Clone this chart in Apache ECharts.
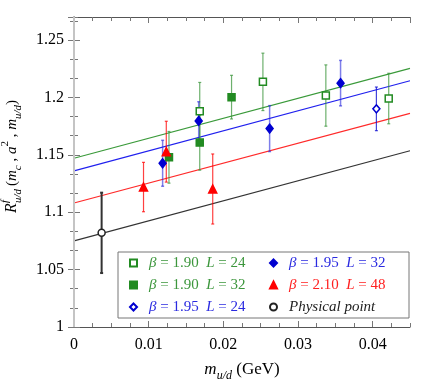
<!DOCTYPE html>
<html>
<head>
<meta charset="utf-8">
<script src="https://cdn.jsdelivr.net/npm/echarts@6/dist/echarts.min.js"></script>
<style>
  html, body { margin: 0; padding: 0; background: #fff; }
  #chart { width: 436px; height: 384px; }
</style>
</head>
<body>
<div id="chart"></div>
<script>
// data
const b190L24X = [0.01684, 0.0253, 0.03373, 0.04215];
const b190L24Y = [1.188, 1.2135, 1.2016, 1.199];
const b190L24Err = [0.025, 0.025, 0.0267, 0.022];

const b190L32X = [0.01272, 0.01684, 0.0211];
const b190L32Y = [1.1478, 1.1606, 1.2002];
const b190L32Err = [0.0225, 0.024, 0.019];

const b195L24X = [0.0405];
const b195L24Y = [1.19];
const b195L24Err = [0.019];

const b195L32X = [0.01187, 0.0167, 0.0262, 0.0357];
const b195L32Y = [1.1426, 1.1795, 1.1728, 1.2124];
const b195L32Err = [0.02, 0.0167, 0.02, 0.0198];

const b210L48X = [0.00931, 0.01236, 0.01858];
const b210L48Y = [1.1219, 1.1527, 1.1202];
const b210L48Err = [0.0215, 0.0265, 0.0305];

const physX = [0.0037];
const physY = [1.082];
const physErr = [0.035];

// fit lines, evaluated at the ends of the x range
const fitX = [0, 0.045];
const fitGreen = [1.147, 1.2253];
const fitBlue = [1.136, 1.2145];
const fitRed = [1.108, 1.186];
const fitBlack = [1.075, 1.1535];

const xTicks = [0, 0.01, 0.02, 0.03, 0.04];
const yTicks = [1, 1.05, 1.1, 1.15, 1.2, 1.25];

const SERIF = '"Liberation Serif", "DejaVu Serif", serif';
const GREEN = '#228b22', BLUE = '#0000d0', RED = '#ff0000', BLACK = '#222';

function pts(xs, ys, es) {
    return xs.map((x, i) => es ? [x, ys[i], es[i]] : [x, ys[i]]);
}

function errBars(name, xs, ys, es, color, width) {
    return {
        type: 'custom', name: name + '_err', z: 3, silent: true,
        data: pts(xs, ys, es),
        renderItem: (params, api) => {
            const x = api.value(0), y = api.value(1), e = api.value(2);
            const top = api.coord([x, y + e]);
            const bot = api.coord([x, y - e]);
            const st = { stroke: color, lineWidth: width };
            return {
                type: 'group', children: [
                    { type: 'line', shape: { x1: top[0], y1: top[1], x2: bot[0], y2: bot[1] }, style: st },
                    { type: 'line', shape: { x1: top[0] - 1.5, y1: top[1], x2: top[0] + 1.5, y2: top[1] }, style: st },
                    { type: 'line', shape: { x1: bot[0] - 1.5, y1: bot[1], x2: bot[0] + 1.5, y2: bot[1] }, style: st }
                ]
            };
        }
    };
}

function fitLine(ys, color) {
    return {
        type: 'line', z: 2, silent: true, showSymbol: false,
        data: pts(fitX, ys),
        lineStyle: { color: color, width: 1.2 }
    };
}

function markers(name, xs, ys, symbol, size, fill, border) {
    return {
        type: 'scatter', name: name, z: 5, symbol: symbol, symbolSize: size,
        data: pts(xs, ys),
        itemStyle: { color: fill, borderColor: border, borderWidth: 1.5, opacity: 1 }
    };
}

const L24 = 'β = 1.90  L = 24', L32 = 'β = 1.90  L = 32',
      M24 = 'β = 1.95  L = 24', M32 = 'β = 1.95  L = 32',
      N48 = 'β = 2.10  L = 48', PHYS = 'Physical point';

const chart = echarts.init(document.getElementById('chart'), null, { renderer: 'canvas' });

const tickAxisBase = { min: 0, max: 0.045, type: 'value', axisLabel: { show: false }, splitLine: { show: false } };
const yTickBase = { min: 1, max: 1.27, type: 'value', axisLabel: { show: false }, splitLine: { show: false } };

chart.setOption({
    animation: false,
    grid: { left: 74, right: 26, top: 17, bottom: 57, outerBoundsMode: 'none', containLabel: false },
    xAxis: [
        {
            ...tickAxisBase, position: 'bottom', interval: 0.01,
            axisLine: { lineStyle: { color: '#555', width: 1 } },
            axisTick: { inside: true, length: 6, lineStyle: { color: '#777' } },
            axisLabel: {
                show: true, margin: 10, fontFamily: SERIF, fontSize: 16, color: '#000',
                showMaxLabel: false,
                formatter: v => xTicks.some(t => Math.abs(t - v) < 1e-9) ? String(+v.toFixed(2)) : ''
            },
            name: '{i|m}{s|u/d}{n| (GeV)}', nameLocation: 'middle', nameGap: 31,
            nameTextStyle: {
                rich: {
                    i: { fontFamily: SERIF, fontStyle: 'italic', fontSize: 17, color: '#000', lineHeight: 24, verticalAlign: 'middle' },
                    s: { fontFamily: SERIF, fontStyle: 'italic', fontSize: 12, color: '#000', lineHeight: 12, verticalAlign: 'bottom' },
                    n: { fontFamily: SERIF, fontSize: 17, color: '#000', lineHeight: 24, verticalAlign: 'middle' }
                }
            }
        },
        {
            ...tickAxisBase, position: 'bottom', interval: 0.0025,
            axisLine: { show: false },
            axisTick: { inside: true, length: 4, lineStyle: { color: '#777' } }
        },
        {
            ...tickAxisBase, position: 'top', interval: 0.01,
            axisLine: { lineStyle: { color: '#555', width: 1 } },
            axisTick: { inside: true, length: 6, lineStyle: { color: '#777' } }
        },
        {
            ...tickAxisBase, position: 'top', interval: 0.0025,
            axisLine: { show: false },
            axisTick: { inside: true, length: 4, lineStyle: { color: '#777' } }
        }
    ],
    yAxis: [
        {
            ...yTickBase, position: 'left', interval: 0.05,
            axisLine: { lineStyle: { color: '#555', width: 1 } },
            axisTick: { inside: true, length: 6, lineStyle: { color: '#777' } },
            axisLabel: {
                show: true, margin: 10, fontFamily: SERIF, fontSize: 16, color: '#000',
                showMaxLabel: false,
                formatter: v => yTicks.some(t => Math.abs(t - v) < 1e-9) ? String(+v.toFixed(2)) : ''
            }
        },
        {
            ...yTickBase, position: 'left', interval: 1 / 60,
            axisLine: { show: false },
            axisTick: { inside: true, length: 4, lineStyle: { color: '#777' } }
        },
        {
            ...yTickBase, position: 'right', interval: 0.05,
            axisLine: { lineStyle: { color: '#aaa', width: 2 } },
            axisTick: { inside: true, length: 6, lineStyle: { color: '#777' } }
        },
        {
            ...yTickBase, position: 'right', interval: 1 / 60,
            axisLine: { show: false },
            axisTick: { inside: true, length: 4, lineStyle: { color: '#777' } }
        }
    ],
    legend: {
        left: 118, top: 252, width: 288, orient: 'horizontal',
        backgroundColor: '#fff', borderColor: '#777', borderWidth: 1, borderRadius: 0,
        padding: [2, 4, 2, 11], itemGap: 4, itemWidth: 7, itemHeight: 7,
        selectedMode: false,
        data: [
            { name: L24, textStyle: { color: '#3c963c' } },
            { name: M32, textStyle: { color: '#2a2ae0' } },
            { name: L32, textStyle: { color: '#3c963c' } },
            { name: N48, textStyle: { color: '#ff2020' } },
            { name: M24, textStyle: { color: '#2a2ae0' } },
            { name: PHYS, textStyle: { color: '#222' } }
        ],
        formatter: name => name === PHYS ? '{i|' + name + '}'
            : name.replace('β', '{i|β}').replace('L', '{i|L}'),
        textStyle: {
            fontFamily: SERIF, fontSize: 15, width: 116, lineHeight: 18, padding: [0, 0, 0, 7],
            rich: { i: { fontStyle: 'italic', fontFamily: SERIF, fontSize: 15 } }
        }
    },
    graphic: [{
        type: 'group', x: 12, y: 213, rotation: Math.PI / 2,
        children: [
            { type: 'text', x: 0, y: 0, style: { text: 'R', font: 'italic 16px ' + SERIF, fill: '#000', verticalAlign: 'middle' } },
            { type: 'text', x: 10, y: -7, style: { text: 'f', font: 'italic 11px ' + SERIF, fill: '#000', verticalAlign: 'middle' } },
            { type: 'text', x: 10, y: 6, style: { text: 'u/d', font: 'italic 11px ' + SERIF, fill: '#000', verticalAlign: 'middle' } },
            {
                type: 'text', x: 27, y: 0,
                style: {
                    text: '{n|(}{i|m}{s|c}{n| , }{i|a}{p|2}{n| , }{i|m}{s|u/d}{n|)}',
                    verticalAlign: 'middle',
                    rich: {
                        n: { font: '15px ' + SERIF, fill: '#000', lineHeight: 24, verticalAlign: 'middle' },
                        i: { font: 'italic 15px ' + SERIF, fill: '#000', lineHeight: 24, verticalAlign: 'middle' },
                        s: { font: 'italic 11px ' + SERIF, fill: '#000', lineHeight: 11, verticalAlign: 'bottom' },
                        p: { font: '11px ' + SERIF, fill: '#000', lineHeight: 11, verticalAlign: 'top' }
                    }
                }
            }
        ]
    }],
    series: [
        {
            type: 'line', data: [], silent: true,
            markLine: {
                silent: true, symbol: 'none', label: { show: false },
                lineStyle: { color: '#c4c4c4', width: 2, type: 'solid' },
                data: [{ xAxis: physX[0] }]
            }
        },
        fitLine(fitGreen, '#3a9a3a'),
        fitLine(fitBlue, '#2020ee'),
        fitLine(fitRed, '#ff2a2a'),
        fitLine(fitBlack, '#333'),
        errBars('L24', b190L24X, b190L24Y, b190L24Err, 'rgba(60,150,60,0.75)', 1.2),
        errBars('L32', b190L32X, b190L32Y, b190L32Err, 'rgba(60,150,60,0.75)', 1.2),
        errBars('M24', b195L24X, b195L24Y, b195L24Err, 'rgba(20,20,210,0.8)', 1.2),
        errBars('M32', b195L32X, b195L32Y, b195L32Err, 'rgba(40,40,220,0.6)', 1.5),
        errBars('N48', b210L48X, b210L48Y, b210L48Err, 'rgba(255,0,0,0.75)', 1.2),
        errBars('P', physX, physY, physErr, '#333', 2),
        markers(L24, b190L24X, b190L24Y, 'rect', 7, '#fff', GREEN),
        markers(L32, b190L32X, b190L32Y, 'rect', 7, GREEN, GREEN),
        markers(M24, b195L24X, b195L24Y, 'diamond', [7, 8], '#fff', BLUE),
        markers(M32, b195L32X, b195L32Y, 'diamond', [7, 9], BLUE, BLUE),
        markers(N48, b210L48X, b210L48Y, 'triangle', 8, RED, RED),
        markers(PHYS, physX, physY, 'circle', 7, '#fff', BLACK)
    ]
});
</script>
</body>
</html>
